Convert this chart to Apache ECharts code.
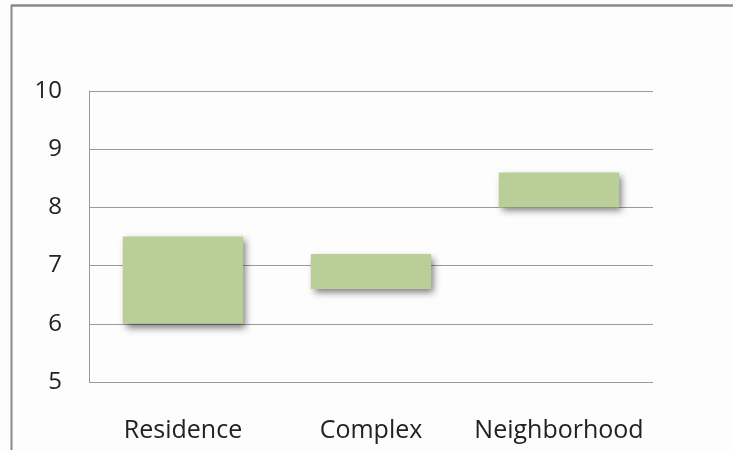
<!DOCTYPE html>
<html><head><meta charset="utf-8">
<script src="https://cdn.jsdelivr.net/npm/echarts@6/dist/echarts.min.js"></script>
<style>html,body{margin:0;padding:0;background:#fdfdfd}#c{width:733px;height:450px}</style>
</head><body><div id="c"></div>
<script>
const categories = ['Residence', 'Complex', 'Neighborhood'];
const lowValues = [6.0, 6.6, 8.0];
const highValues = [7.5, 7.2, 8.6];
const yTicks = [5, 6, 7, 8, 9, 10];

const rangeValues = highValues.map((h, i) => +(h - lowValues[i]).toFixed(2));
const chart = echarts.init(document.getElementById('c'));
const font = '"Open Sans", sans-serif';
chart.setOption({
  backgroundColor: '#fdfdfd',
  animation: false,
  grid: { left: 89, right: 80, top: 91, bottom: 68, containLabel: false },
  graphic: [
    { type: 'line', shape: { x1: 11, y1: 5.5, x2: 733, y2: 5.5 }, style: { stroke: '#8a8a8a', lineWidth: 2.5 } },
    { type: 'line', shape: { x1: 11.5, y1: 5, x2: 11.5, y2: 450 }, style: { stroke: '#8a8a8a', lineWidth: 2 } }
  ],
  xAxis: {
    type: 'category', data: categories,
    axisLine: { show: false }, axisTick: { show: false },
    axisLabel: { color: '#222', fontFamily: font, fontSize: 25, margin: 36, interval: 0 }
  },
  yAxis: {
    type: 'value', min: yTicks[0], max: yTicks[yTicks.length - 1], interval: 1,
    axisLine: { show: true, lineStyle: { color: '#9a9a9a', width: 1 } },
    axisTick: { show: false },
    splitLine: { lineStyle: { color: '#9a9a9a', width: 1 } },
    axisLabel: { color: '#222', fontFamily: font, fontSize: 24, margin: 27 }
  },
  series: [
    { type: 'bar', stack: 'r', data: lowValues, barWidth: '64%',
      itemStyle: { color: 'transparent' }, silent: true },
    { type: 'bar', stack: 'r', data: rangeValues, barWidth: '64%',
      itemStyle: { color: '#b9cf97', shadowBlur: 7, shadowOffsetX: 3, shadowOffsetY: 4, shadowColor: 'rgba(0,0,0,0.5)' } }
  ]
});
</script></body></html>
